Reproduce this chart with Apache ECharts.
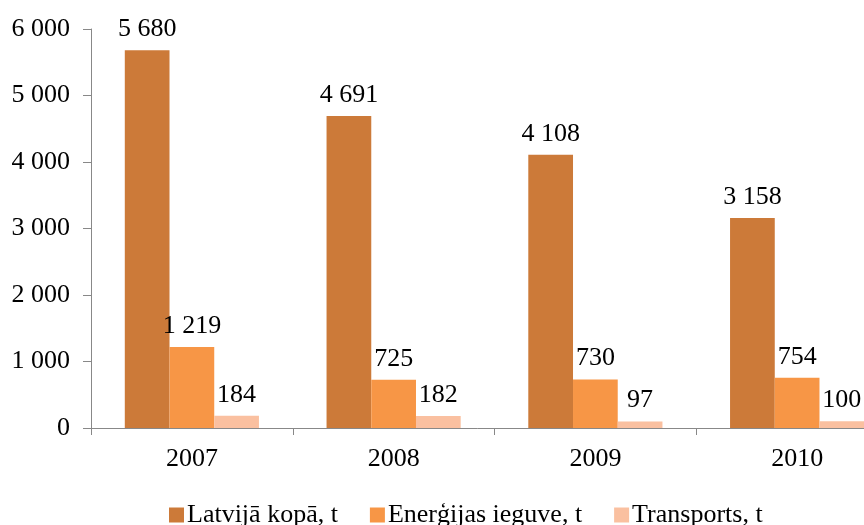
<!DOCTYPE html>
<html><head><meta charset="utf-8">
<script src="https://cdn.jsdelivr.net/npm/echarts@6/dist/echarts.min.js"></script>
<style>html,body{margin:0;padding:0;background:#fff}#c{width:864px;height:525px}</style>
</head><body><div id="c"></div>
<script>
const categories = ['2007', '2008', '2009', '2010'];
const seriesNames = ['Latvijā kopā, t', 'Enerģijas ieguve, t', 'Transports, t'];
const latvijaKopa = [5680, 4691, 4108, 3158];
const energijasIeguve = [1219, 725, 730, 754];
const transports = [184, 182, 97, 100];
const yTicks = [0, 1000, 2000, 3000, 4000, 5000, 6000];
const colors = ['#CC7A39', '#F79646', '#FAC0A0'];

const fmt = v => String(v).replace(/\B(?=(\d{3})+(?!\d))/g, ' ');
const FONT = '"Liberation Serif", "Times New Roman", serif';
const FS = 26;
const label = {show: true, position: 'top', distance: 8, color: '#000', fontFamily: FONT, fontSize: FS,
  formatter: p => fmt(p.value)};
const chart = echarts.init(document.getElementById('c'));
const data = [latvijaKopa, energijasIeguve, transports];
chart.setOption({
  animation: false,
  grid: {left: 91, top: 29, width: 807, height: 399, containLabel: false, outerBoundsMode: 'none'},
  legend: {
    data: seriesNames, top: 497, left: 164, icon: 'rect', itemWidth: 15, itemHeight: 15, itemGap: 32,
    textStyle: {fontFamily: FONT, fontSize: FS, color: '#000', padding: [0, 0, 0, -2]}
  },
  xAxis: {
    type: 'category', data: categories,
    axisLine: {lineStyle: {color: '#888'}},
    axisTick: {show: true, length: 7, lineStyle: {color: '#888'}},
    axisLabel: {fontFamily: FONT, fontSize: FS, color: '#000', margin: 18}
  },
  yAxis: {
    type: 'value', min: yTicks[0], max: yTicks[yTicks.length - 1], interval: yTicks[1] - yTicks[0],
    splitLine: {show: false},
    axisLine: {show: true, lineStyle: {color: '#888'}},
    axisTick: {show: true, length: 8, lineStyle: {color: '#888'}},
    axisLabel: {fontFamily: FONT, fontSize: FS, color: '#000', margin: 21, formatter: v => fmt(v)}
  },
  series: seriesNames.map((n, i) => ({
    name: n, type: 'bar', data: data[i], barGap: '0%', barCategoryGap: '33.5%',
    itemStyle: {color: colors[i]}, label: label
  }))
});
</script></body></html>
